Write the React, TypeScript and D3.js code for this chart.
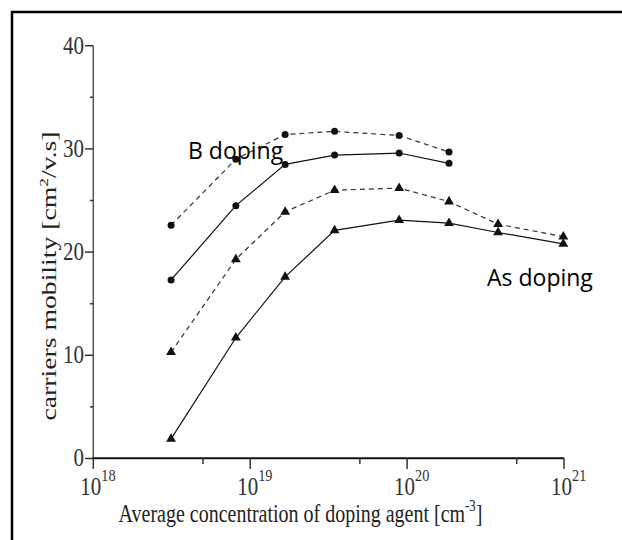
import React from 'react';
import * as d3 from 'd3';

// Data
const concentrations = [3.13e18, 8.1e18, 1.67e19, 3.45e19, 8.9e19, 1.85e20, 3.8e20, 9.9e20];
const bDashed = [22.6, 29.0, 31.4, 31.7, 31.3, 29.7];
const bSolid = [17.3, 24.5, 28.5, 29.4, 29.6, 28.6];
const asDashed = [10.3, 19.3, 23.9, 26.0, 26.2, 24.9, 22.7, 21.5];
const asSolid = [1.9, 11.7, 17.6, 22.1, 23.1, 22.8, 21.9, 20.8];

const yTicks = [0, 10, 20, 30, 40];
const yMinorTicks = [5, 15, 25, 35];
const xTicks = [1e18, 1e19, 1e20, 1e21];
const xTickExponents = ['18', '19', '20', '21'];
const xMinorTicks = [5e18, 5e19, 5e20];

const seriesLabels = ['B doping', 'As doping'];

type Series = { values: number[]; dashed: boolean; marker: 'circle' | 'triangle' };
const series: Series[] = [
  { values: bDashed, dashed: true, marker: 'circle' },
  { values: bSolid, dashed: false, marker: 'circle' },
  { values: asDashed, dashed: true, marker: 'triangle' },
  { values: asSolid, dashed: false, marker: 'triangle' },
];

export default function App() {
  const W = 622;
  const H = 540;
  const x = d3.scaleLog().domain([1e18, 1e21]).range([93.3, 564]);
  const y = d3.scaleLinear().domain([0, 40]).range([458.5, 45.7]);
  const serif = '"Liberation Serif", "Times New Roman", serif';
  const sans = '"Open Sans", "Noto Sans", sans-serif';

  const line = d3
    .line<[number, number]>()
    .x((d) => x(d[0]))
    .y((d) => y(d[1]));

  const tri = d3.symbol().type(d3.symbolTriangle).size(42)();

  return (
    <svg
      width={W}
      height={H}
      style={{ position: 'absolute', left: 0, top: 0, background: '#fff' }}
    >
      <rect x={0} y={0} width={W} height={H} fill="#fff" />
      {/* frame */}
      <line x1={11} y1={12} x2={W} y2={12} stroke="#000" strokeWidth={2.5} />
      <line x1={12} y1={11} x2={12} y2={H} stroke="#000" strokeWidth={2.5} />

      {/* y axis */}
      <line x1={93.3} y1={y(40)} x2={93.3} y2={y(0)} stroke="#555" strokeWidth={1.5} />
      {yTicks.map((t) => (
        <g key={'yt' + t}>
          <line x1={85} x2={93.3} y1={y(t)} y2={y(t)} stroke="#333" strokeWidth={1.5} />
          <g transform={`translate(84,${y(t) + 7.8}) scale(0.84,1)`}>
            <text textAnchor="end" fontFamily={serif} fontSize={25} fill="#333">
              {t}
            </text>
          </g>
        </g>
      ))}
      {yMinorTicks.map((t) => (
        <line key={'ym' + t} x1={90} x2={93.3} y1={y(t)} y2={y(t)} stroke="#333" strokeWidth={1.5} />
      ))}

      {/* x axis */}
      <line x1={92.5} y1={458.3} x2={564} y2={458.3} stroke="#111" strokeWidth={2} />
      {xTicks.map((t, i) => (
        <g key={'xt' + t}>
          <line x1={x(t)} x2={x(t)} y1={458} y2={469} stroke="#333" strokeWidth={1.5} />
          <g transform={`translate(${x(t) - 13},495) scale(0.84,1)`}>
            <text fontFamily={serif} fontSize={25} fill="#333">
              10
              <tspan dy={-14} fontSize={17}>
                {xTickExponents[i]}
              </tspan>
            </text>
          </g>
        </g>
      ))}
      {xMinorTicks.map((t) => (
        <line key={'xm' + t} x1={x(t)} x2={x(t)} y1={458} y2={464} stroke="#333" strokeWidth={1.5} />
      ))}

      {/* axis titles */}
      <g transform="translate(300.5,521.7) scale(0.8,1)">
        <text textAnchor="middle" fontFamily={serif} fontSize={25} fill="#222">
          Average concentration of doping agent [cm
          <tspan dy={-11} fontSize={16}>
            -3
          </tspan>
          <tspan dy={11}>]</tspan>
        </text>
      </g>
      <g transform="translate(55.5,276) rotate(-90) scale(1.32,1)">
        <text textAnchor="middle" fontFamily={serif} fontSize={21} fill="#222">
          carriers mobility [cm
          <tspan dy={-8} fontSize={13}>
            2
          </tspan>
          <tspan dy={8}>/v.s]</tspan>
        </text>
      </g>

      {/* series */}
      {series.map((s, si) => {
        const pts: [number, number][] = s.values.map((v, i) => [concentrations[i], v]);
        return (
          <g key={'s' + si}>
            <path
              d={line(pts) || ''}
              fill="none"
              stroke={s.dashed ? '#333' : '#111'}
              strokeWidth={1.2}
              strokeDasharray={s.dashed ? '5,4' : undefined}
            />
            {pts.map((p, i) =>
              s.marker === 'circle' ? (
                <circle key={i} cx={x(p[0])} cy={y(p[1])} r={3.5} fill="#111" />
              ) : (
                <path
                  key={i}
                  d={tri || ''}
                  transform={`translate(${x(p[0])},${y(p[1])})`}
                  fill="#111"
                />
              )
            )}
          </g>
        );
      })}

      {/* annotations */}
      <text x={188} y={158.5} fontFamily={sans} fontSize={23} fill="#000">
        {seriesLabels[0]}
      </text>
      <text x={487} y={285.5} fontFamily={sans} fontSize={23} fill="#000">
        {seriesLabels[1]}
      </text>
    </svg>
  );
}
